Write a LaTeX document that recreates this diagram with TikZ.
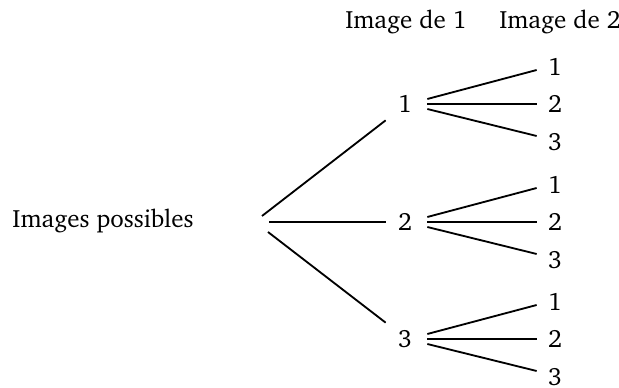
\documentclass[tikz,border=0pt]{standalone}
\usepackage[T1]{fontenc}
\usepackage{charter}
\usetikzlibrary{calc}
\begin{document}
\begin{tikzpicture}[x=0.6pt,y=-0.6pt,
  every node/.style={font=\fontsize{15pt}{18pt}\selectfont},
  lvone/.style={minimum width=38*0.6pt,minimum height=32*0.6pt,inner sep=0pt},
  lvtwo/.style={minimum width=36*0.6pt,minimum height=20*0.6pt,inner sep=0pt},
  edge/.style={line width=1.1pt}]
\useasboundingbox (0,0) rectangle (619,388);
\node (h1) at (406,22) {Image de 1};
\node (h2) at (560,22) {Image de 2};
\node (root) at (103,221) {Images possibles};
\coordinate (ra) at (262,216);
\coordinate (rb) at (269,222);
\coordinate (rc) at (268,232);
\node[lvone] (n1) at (405,104) {1};
\node[lvone] (n2) at (405,222) {2};
\node[lvone] (n3) at (405,339) {3};
\draw[edge] (ra) -- (n1.south west);
\draw[edge] (rb) -- (n2.west);
\draw[edge] (rc) -- (n3.north west);
\foreach \p/\y in {1/104,2/222,3/339}{
  \node[lvtwo] (c\p a) at (555,\y-37) {1};
  \node[lvtwo] (c\p b) at (555,\y) {2};
  \node[lvtwo] (c\p c) at (555,\y+38) {3};
  \draw[edge] ($(n\p.east)+(3,-5)$) -- ($(c\p a.west)+(0,3)$);
  \draw[edge] ($(n\p.east)+(3,0)$) -- (c\p b.west);
  \draw[edge] ($(n\p.east)+(3,5)$) -- ($(c\p c.west)+(0,-6)$);
}
\end{tikzpicture}
\end{document}
